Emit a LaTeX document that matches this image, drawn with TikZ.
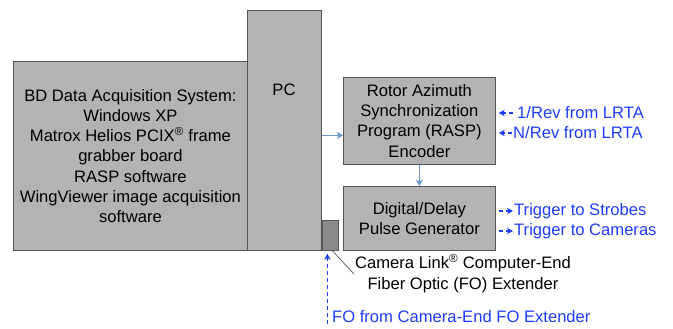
\documentclass[tikz,border=0pt]{standalone}
\usepackage{fontspec}
\setmainfont{Liberation Sans}
\usetikzlibrary{arrows.meta,positioning}
\definecolor{boxgray}{RGB}{179,179,179}
\definecolor{boxedge}{RGB}{85,85,85}
\definecolor{extgray}{RGB}{138,138,138}
\definecolor{linkblue}{RGB}{105,152,205}
\definecolor{sigblue}{RGB}{30,60,250}
\tikzset{
  box/.style={draw=boxedge,fill=boxgray,line width=0.8pt,inner sep=0pt,
    align=center,anchor=north west,font=\fontsize{16.6}{20.2}\selectfont},
  link/.style={draw=linkblue,line width=1.5pt,-{Stealth[length=6pt,width=7pt,inset=1.5pt]}},
  sig/.style={draw=sigblue,dash pattern=on 4pt off 3pt,line width=1.4pt,
    -{Stealth[length=6pt,width=6.5pt]}},
  sigtext/.style={text=sigblue,anchor=west,inner sep=1pt,font=\fontsize{16.6}{20}\selectfont},
  note/.style={align=center,inner sep=1pt,font=\fontsize{16.6}{21}\selectfont}
}
\begin{document}
\begin{tikzpicture}[x=1pt,y=-1pt]
  \useasboundingbox (0,0) rectangle (673,329);
  % computer side
  \node[box,minimum width=234pt,minimum height=189pt] (daq) at (13,61)
    {BD Data Acquisition System:\\Windows XP\\Matrox Helios PCIX\textsuperscript{®} frame\\grabber board\\RASP software\\WingViewer image acquisition\\software};
  \node[box,minimum width=74pt,minimum height=240pt] (pc) at (247,10) {};
  \node[note] (pclabel) at (284,90) {PC};
  \node[box,fill=extgray,minimum width=16pt,minimum height=30pt] (ext) at (322,220) {};
  % encoder and pulse generator
  \node[box,minimum width=152pt,minimum height=87pt] (rasp) at (343,77)
    {Rotor Azimuth\\Synchronization\\Program (RASP)\\Encoder};
  \node[box,minimum width=152pt,minimum height=64pt] (pulse) at (343,186)
    {Digital/Delay\\Pulse Generator};
  \draw[link] ([yshift=-14.5pt]rasp.west -| pc.east) -- ([yshift=-14.5pt]rasp.west);
  \draw[link] (rasp.south) -- (pulse.north);
  % signals in and out
  \node[sigtext] (rev1) at (516,113) {1/Rev from LRTA};
  \node[sigtext] (revN) at (512,133) {N/Rev from LRTA};
  \node[sigtext] (strobe) at (513,211) {Trigger to Strobes};
  \node[sigtext] (camera) at (513,231) {Trigger to Cameras};
  \draw[sig] ([xshift=-3pt]rev1.west) -- ([xshift=3pt]rasp.east |- rev1.west);
  \draw[sig] (revN.west) -- ([xshift=3pt]rasp.east |- revN.west);
  \draw[sig] ([xshift=3pt]pulse.east |- strobe.west) -- (strobe.west);
  \draw[sig] ([xshift=3pt]pulse.east |- camera.west) -- (camera.west);
  % fiber optic extender
  \node[note] (extlabel) at (463,274)
    {Camera Link\textsuperscript{®} Computer-End\\Fiber Optic (FO) Extender};
  \draw[boxedge,line width=0.7pt] ([xshift=2pt]ext.south) -- (extlabel.west);
  \node[sigtext] (fo) at (331,317) {FO from Camera-End FO Extender};
  \draw[sig] ([xshift=-3pt]ext.south |- fo.south) -- ([xshift=-3pt,yshift=-3pt]ext.south);
\end{tikzpicture}
\end{document}
